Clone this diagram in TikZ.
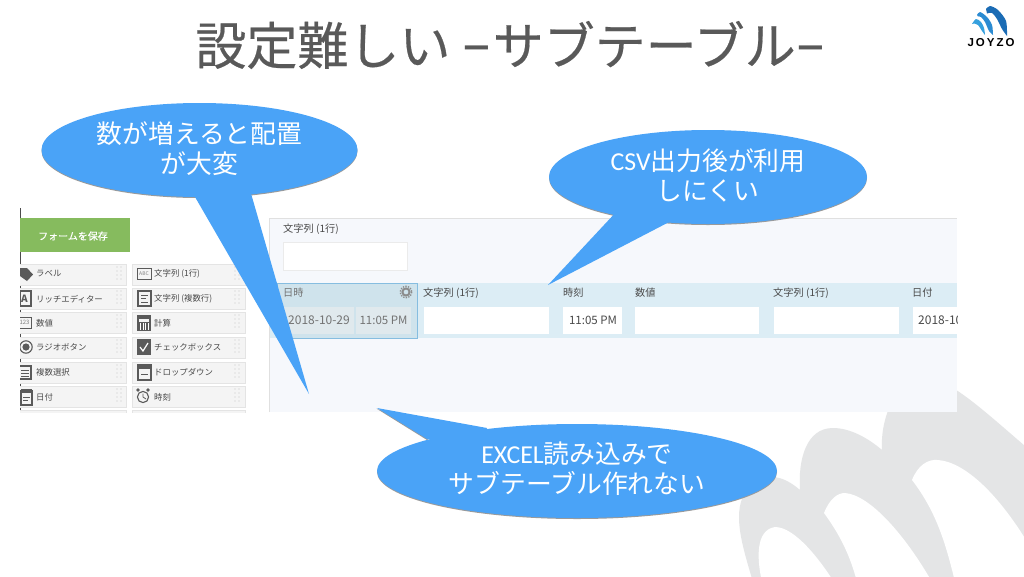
\documentclass[tikz,border=0pt]{standalone}
\usepackage{fontspec}
\setmainfont{Noto Sans CJK JP}
\newfontfamily\latinf{Carlito}
\newfontfamily\titlef{Noto Sans CJK JP}[FakeBold=0.4]
\newfontfamily\logof{Liberation Sans}
\newcommand{\fsz}[1]{\fontsize{#1}{#1}\selectfont}
\newcommand{\titledash}{\raisebox{-3pt}{\latinf\fsz{62}−}}
\definecolor{callblue}{HTML}{4AA3F7}
\definecolor{callshadow}{HTML}{9A9A9A}
\definecolor{logogray}{HTML}{E4E5E6}
\definecolor{titlegray}{HTML}{595959}
\definecolor{panelbg}{HTML}{F6F8FC}
\definecolor{rowbg}{HTML}{DCEDF5}
\definecolor{selbg}{HTML}{CFE3EC}
\definecolor{selfield}{HTML}{E0E9ED}
\definecolor{selborder}{HTML}{86BDE0}
\definecolor{itembg}{HTML}{F4F4F4}
\definecolor{itemline}{HTML}{E4E4E4}
\definecolor{icondark}{HTML}{5A5A5A}
\definecolor{labeltxt}{HTML}{4A4A4A}
\definecolor{savegreen}{HTML}{86BB5E}
\definecolor{logoa}{HTML}{35A0DE}
\definecolor{logob}{HTML}{2B8BD2}
\definecolor{logoc}{HTML}{1B6CB5}
\tikzset{
  titletext/.style={font=\titlef\fsz{51},text=titlegray,inner sep=0pt},
  callbody/.style={shape=ellipse,fill=callblue,inner sep=0pt},
  calltext/.style={text=white,align=center,inner sep=0pt,font=\fontsize{25.8}{30.5}\selectfont},
  fieldlabel/.style={anchor=west,inner sep=0pt,text=labeltxt,font=\fsz{10.2}},
  itemlabel/.style={anchor=west,inner sep=0pt,text=labeltxt,font=\fsz{8.4}},
  itembox/.style={fill=itembg,draw=itemline,line width=.6pt},
  inputbox/.style={fill=white,draw=none},
  valuetext/.style={inner sep=0pt,text=labeltxt,font=\fsz{11.5}},
  icon/.style={draw=icondark,line width=1.1pt,fill=none},
  tailshadow/.style={fill=callshadow,draw=none},
  tailfill/.style={fill=callblue,draw=none},
}
\usetikzlibrary{shapes.geometric}
\begin{document}
\begin{tikzpicture}[x=1pt,y=-1pt]
\useasboundingbox (0,0) rectangle (1024,576);
\fill[white] (0,0) rectangle (1024,576);
% background logo
\begin{scope}
\clip (0,0) rectangle (1024,576);
\fill[logogray] (753,582) .. controls (745,555) and (739,535) .. (739,517)
  .. controls (739,490) and (755,477) .. (772,477)
  .. controls (782,477) and (792,483) .. (800,490)
  .. controls (798,460) and (806,428) .. (833,428)
  .. controls (850,428) and (868,438) .. (882,450)
  .. controls (880,420) and (895,378) .. (925,378)
  .. controls (950,378) and (985,412) .. (1032,452)
  -- (1032,582) -- cycle;
\fill[white] (762,582) .. controls (757,560) and (755,530) .. (775,527)
  .. controls (795,527) and (820,560) .. (834,582) -- cycle;
\fill[white] (857,582) .. controls (850,555) and (840,535) .. (824,513)
  .. controls (830,498) and (838,493) .. (845,493)
  .. controls (870,495) and (905,535) .. (932,582) -- cycle;
\fill[white] (955,582) .. controls (945,540) and (935,510) .. (912,480)
  .. controls (918,465) and (928,459) .. (938,460)
  .. controls (965,462) and (1000,495) .. (1032,550)
  -- (1032,582) -- cycle;
\end{scope}
% title
\node[titletext] (title) at (511,45) {設定難しい \titledash サブテーブル\titledash};
% JOYZO logo
\fill[logoa] plot[smooth] coordinates {(972,24)(976,19)(981,22)(984,28)(985,35)}
  -- plot[smooth] coordinates {(985,35)(982,31)(978,25)(974,23.5)} -- cycle;
\fill[logob] plot[smooth] coordinates {(977,15)(980,12)(987,17)(992,25)(993,35)}
  -- plot[smooth] coordinates {(993,35)(989,31)(985,22)(981,17)(978,16.5)} -- cycle;
\fill[logoc] plot[smooth] coordinates {(986,9)(990,6)(998,10)(1006,21)(1007,36)}
  -- plot[smooth] coordinates {(1007,36)(1002,29)(997,19)(992,13)(987,13.5)} -- cycle;
\node[inner sep=0pt,font=\logof\bfseries\fsz{11.5}] (logo) at (991,43) {J\kern2pt O\kern2pt Y\kern2pt Z\kern2pt O};
% screenshot: left palette
\draw[black!70,line width=.8pt] (20,208) -- (20,412);
\fill[savegreen] (20,218) rectangle (130,252);
\node[inner sep=0pt,text=white,font=\titlef\fsz{10}] (save) at (73,236) {フォームを保存};
\begin{scope}
\clip (20,208) rectangle (957,412);
\foreach \y [count=\r] in {264,288,312,337,362,386,410} {
  \draw[itembox] (14,\y) rectangle (126,\y+21);
  \draw[itembox] (132,\y) rectangle (245,\y+21);
  \ifnum\r<7
  \foreach \dy in {3,7,11,15} {
    \fill[black!22] (117,\y+\dy) circle (.7) (121,\y+\dy) circle (.7);
    \fill[black!22] (235,\y+\dy) circle (.7) (239,\y+\dy) circle (.7);
  }
  \fi
}
% left icons
\fill[icondark] (20,268) -- (27,268) -- (33,274.5) -- (27,281) -- (20,276) -- cycle;
\draw[icon] (20,291) rectangle (31,306);
\node[inner sep=0pt,font=\bfseries\fsz{10},text=icondark] (ia) at (24.5,298.5) {A};
\draw[icon,line width=.7pt] (18,317) rectangle (31,328);
\node[inner sep=0pt,font=\fsz{6},text=gray] (i123) at (24.5,322.5) {123};
\draw[icon] (26,347) circle (6.2);
\fill[icondark] (26,347) circle (3.6);
\draw[icon] (18,366) rectangle (31,379);
\draw[icon,line width=.8pt] (21,370) -- (29,370) (21,373) -- (29,373) (21,376) -- (29,376);
\draw[icon] (21,391) rectangle (32,405);
\fill[icondark] (21,389) rectangle (32,393);
\draw[icon,line width=.8pt] (23,397) -- (30,397) (23,400) -- (28,400);
% right icons
\draw[icon,line width=.7pt] (137,268.5) rectangle (151,279.5);
\node[inner sep=0pt,font=\fsz{5},text=gray] (iabc) at (144,274) {ABC};
\draw[icon] (138,291) rectangle (151,306);
\draw[icon,line width=.8pt] (141,295) -- (148,295) (141,298.5) -- (146,298.5) (141,302) -- (148,302);
\draw[icon] (138,316) rectangle (150,330);
\fill[icondark] (138,322) rectangle (150,330);
\fill[icondark] (138,316) rectangle (150,319);
\foreach \i in {140.5,143,145.5,148} \draw[white,line width=.4pt] (\i,323) -- (\i,330);
\fill[icondark] (137,339) rectangle (151,355);
\draw[white,line width=1.2pt] (140,347) -- (143,351) -- (148,343);
\draw[icon] (138,365) rectangle (151,380);
\fill[icondark] (138,365) rectangle (151,369);
\draw[icon,line width=.8pt] (141,374) -- (148,374);
\draw[icon] (143,397) circle (5.6);
\draw[icon,line width=.8pt] (143,393.5) -- (143,397) -- (146,399);
\fill[icondark] (138,390) circle (1.8) (148,390) circle (1.8);
\end{scope}
\node[itemlabel] (l1) at (36,274) {ラベル};
\node[itemlabel] (l2) at (36,299) {リッチエディター};
\node[itemlabel] (l3) at (36,323) {数値};
\node[itemlabel] (l4) at (36,347) {ラジオボタン};
\node[itemlabel] (l5) at (36,372) {複数選択};
\node[itemlabel] (l6) at (36,397) {日付};
\node[itemlabel] (r1) at (154,274) {文字列 (1行)};
\node[itemlabel] (r2) at (154,299) {文字列 (複数行)};
\node[itemlabel] (r3) at (154,323) {計算};
\node[itemlabel] (r4) at (154,347) {チェックボックス};
\node[itemlabel] (r5) at (154,372) {ドロップダウン};
\node[itemlabel] (r6) at (154,397) {時刻};
% screenshot: form panel
\fill[panelbg] (269,218) rectangle (957,412);
\draw[black!12,line width=.7pt] (269,412) -- (269,218) -- (957,218);
\node[fieldlabel] (f0) at (283,229) {文字列 (1行)};
\draw[inputbox,draw=black!8] (283,242.5) rectangle (407.5,270);
\fill[rowbg] (270,283) rectangle (957,338);
\fill[selbg] (277,283) rectangle (417,338);
\draw[selborder,line width=.8pt] (277,283) rectangle (417,338);
\node[fieldlabel,text=black!55] (f1) at (283,293) {日時};
\draw[black!45,line width=1.3pt,dash pattern=on 1.4pt off 1.2pt] (406,292) circle (5.7);
\draw[black!45,line width=2pt] (406,292) circle (3.6);
\fill[selfield] (283,307) rectangle (354,334);
\fill[selfield] (355.5,307) rectangle (411,334);
\node[valuetext,font=\fsz{12},text=black!55] (v1) at (319,320) {2018-10-29};
\node[valuetext,text=black!55] (v2) at (383.5,320) {11:05 PM};
\node[fieldlabel] (f2) at (423,293) {文字列 (1行)};
\fill[inputbox] (424,307) rectangle (549,334);
\node[fieldlabel] (f3) at (563,293) {時刻};
\fill[inputbox] (563,307) rectangle (622,334);
\node[valuetext] (v3) at (593,320) {11:05 PM};
\node[fieldlabel] (f4) at (635,293) {数値};
\fill[inputbox] (635,307) rectangle (759,334);
\node[fieldlabel] (f5) at (773,293) {文字列 (1行)};
\fill[inputbox] (774,307) rectangle (899,334);
\node[fieldlabel] (f6) at (912,293) {日付};
\fill[inputbox] (913,307) rectangle (957,334);
\begin{scope}
\clip (900,300) rectangle (957,340);
\node[valuetext,font=\fsz{12},anchor=west] (v4) at (918,320) {2018-10-29};
\end{scope}
% callouts
\fill[callshadow] (199.5,151) ellipse [x radius=158,y radius=47];
\fill[tailfill] (191,190) -- (309,394) -- (250,190) -- cycle;
\node[callbody,minimum width=316pt,minimum height=94pt] (c1) at (199.5,150) {};
\fill[callshadow] (708,178) ellipse [x radius=159,y radius=47];
\fill[tailfill] (618,210) -- (548,285) -- (673,220) -- cycle;
\node[callbody,minimum width=318pt,minimum height=94pt] (c2) at (708,177) {};
\fill[callshadow] (577,472) ellipse [x radius=200,y radius=47];
\fill[tailshadow] (427,440) -- (376.5,408.6) -- (440,432) -- cycle;
\fill[tailfill] (427,439) -- (377,408) -- (487,428) -- (480,445) -- cycle;
\node[callbody,minimum width=400pt,minimum height=94pt] (c3) at (577,471) {};
\node[calltext] (c1t) at (199.5,148.5) {数が増えると配置\\が大変};
\node[calltext] (c2t) at (708,175.5) {{\latinf CSV}出力後が利用\\しにくい};
\node[calltext] (c3t) at (577,468.5) {{\latinf EXCEL}読み込みで\\サブテーブル作れない};
\end{tikzpicture}
\end{document}
